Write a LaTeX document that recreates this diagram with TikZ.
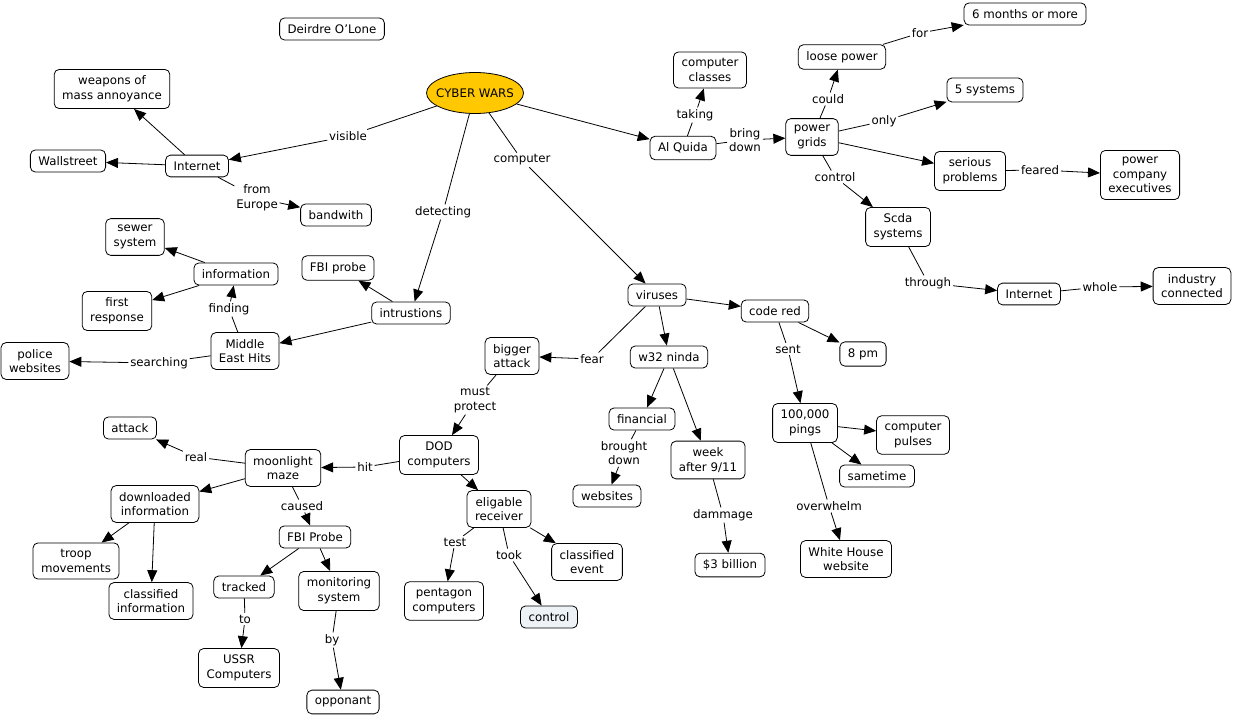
\documentclass[tikz,border=0pt]{standalone}
\usepackage{fontspec}
\setmainfont{DejaVu Sans}
\usetikzlibrary{arrows.meta,shapes.geometric}
\definecolor{cyberorange}{RGB}{255,200,0}
\definecolor{controlblue}{RGB}{236,242,245}
\tikzset{
  concept/.style={draw, rounded corners=5pt, fill=white, align=center, inner xsep=8pt, inner ysep=6.5pt},
  linkword/.style={fill=white, align=center, inner sep=1.5pt},
  arr/.style={-{Triangle[length=12pt,width=10pt]}},
}
\begin{document}
\begin{tikzpicture}[x=1pt,y=-1pt,line width=0.8pt,font=\fontsize{11.8}{14.7}\selectfont]
  \useasboundingbox (0,0) rectangle (1233,717);

  % Autor y concepto central
  \node[concept] (author) at (332,29) {Deirdre O'Lone};
  \node[draw, ellipse, fill=cyberorange, minimum width=97pt, minimum height=41pt, inner xsep=-8pt, inner ysep=0pt] (cyber) at (475,93) {CYBER WARS};

  % Conceptos izquierda arriba
  \node[concept] (weapons) at (112,89) {weapons of\\mass annoyance};
  \node[concept] (wallstreet) at (68,161) {Wallstreet};
  \node[concept] (internetA) at (197,166) {Internet};
  \node[concept] (bandwith) at (336,215) {bandwith};
  \node[concept] (sewer) at (135,237) {sewer\\system};
  \node[concept] (information) at (236,274) {information};
  \node[concept] (response) at (117,311) {first\\response};
  \node[concept] (fbiprobe) at (338,268) {FBI probe};
  \node[concept] (intrusions) at (411,313) {intrustions};
  \node[concept] (middleeast) at (245,351) {Middle\\East Hits};
  \node[concept] (police) at (35,361) {police\\websites};

  % Conceptos izquierda abajo
  \node[concept] (attack) at (130,428) {attack};
  \node[concept] (moonlight) at (283,468) {moonlight\\maze};
  \node[concept] (dod) at (439,455) {DOD\\computers};
  \node[concept] (downloaded) at (155,504) {downloaded\\information};
  \node[concept] (fbiprobeB) at (315,537) {FBI Probe};
  \node[concept] (troop) at (76,561) {troop\\movements};
  \node[concept] (classinfo) at (151,601) {classified\\information};
  \node[concept] (tracked) at (244,587) {tracked};
  \node[concept] (monitoring) at (339,591) {monitoring\\system};
  \node[concept] (pentagon) at (444,601) {pentagon\\computers};
  \node[concept] (ussr) at (239,668) {USSR\\Computers};
  \node[concept] (opponant) at (343,702) {opponant};
  \node[concept] (eligable) at (499,509) {eligable\\receiver};
  \node[concept] (classevent) at (587,562) {classified\\event};
  \node[concept, fill=controlblue] (control) at (549,617) {control};

  % Conceptos de virus
  \node[concept] (viruses) at (657,295) {viruses};
  \node[concept] (codered) at (775,311) {code red};
  \node[concept] (bigger) at (512,356) {bigger\\attack};
  \node[concept] (ninda) at (669,357) {w32 ninda};
  \node[concept] (eightpm) at (863,354) {8 pm};
  \node[concept] (financial) at (642,419) {financial};
  \node[concept] (week) at (708,460) {week\\after 9/11};
  \node[concept] (websites) at (607,496) {websites};
  \node[concept] (pings) at (805,423) {100,000\\pings};
  \node[concept] (pulses) at (913,435) {computer\\pulses};
  \node[concept] (sametime) at (877,476) {sametime};
  \node[concept] (billion) at (730,565) {\$3 billion};
  \node[concept] (whitehouse) at (846,559) {White House\\website};

  % Conceptos derecha arriba
  \node[concept] (classes) at (710,70) {computer\\classes};
  \node[concept] (alquida) at (683,148) {Al Quida};
  \node[concept] (grids) at (812,137) {power\\grids};
  \node[concept] (loose) at (842,57) {loose power};
  \node[concept] (months) at (1025,14) {6 months or more};
  \node[concept] (fivesys) at (985,90) {5 systems};
  \node[concept] (serious) at (970,171) {serious\\problems};
  \node[concept] (executives) at (1140,175) {power\\company\\executives};
  \node[concept] (scda) at (898,227) {Scda\\systems};
  \node[concept] (internetB) at (1029,294) {Internet};
  \node[concept] (industry) at (1192,286) {industry\\connected};

  % Palabras de enlace
  \node[linkword] (visible) at (348,136) {visible};
  \node[linkword] (detecting) at (443,212) {detecting};
  \node[linkword] (computer) at (522,160) {computer};
  \node[linkword] (taking) at (695,115) {taking};
  \node[linkword] (bringdown) at (745,140) {bring\\down};
  \node[linkword] (could) at (828,99) {could};
  \node[linkword] (for) at (920,33) {for};
  \node[linkword] (only) at (884,121) {only};
  \node[linkword] (feared) at (1040,170) {feared};
  \node[linkword] (controls) at (835,177) {control};
  \node[linkword] (through) at (928,283) {through};
  \node[linkword] (whole) at (1100,287) {whole};
  \node[linkword] (europe) at (257,198) {from\\Europe};
  \node[linkword] (finding) at (229,309) {finding};
  \node[linkword] (searching) at (159,363) {searching};
  \node[linkword] (fear) at (592,359) {fear};
  \node[linkword] (protect) at (475,400) {must\\protect};
  \node[linkword] (hit) at (365,467) {hit};
  \node[linkword] (real) at (196,457) {real};
  \node[linkword] (caused) at (302,506) {caused};
  \node[linkword] (to) at (245,619) {to};
  \node[linkword] (by) at (332,640) {by};
  \node[linkword] (test) at (455,542) {test};
  \node[linkword] (took) at (509,555) {took};
  \node[linkword] (brought) at (624,453) {brought\\down};
  \node[linkword] (dammage) at (723,515) {dammage};
  \node[linkword] (sent) at (788,349) {sent};
  \node[linkword] (overwhelm) at (829,506) {overwhelm};

  % Enlaces desde CYBER WARS
  \draw (cyber) -- (visible);
  \draw[arr] (visible) -- (internetA);
  \draw (cyber) -- (detecting);
  \draw[arr] (detecting) -- (intrusions);
  \draw (cyber) -- (computer);
  \draw[arr] (computer) -- (viruses);
  \draw[arr] (cyber) -- (alquida);

  % Enlaces Internet / intrusiones
  \draw[arr] (internetA) -- (weapons);
  \draw[arr] (internetA) -- (wallstreet);
  \draw (internetA) -- (europe);
  \draw[arr] (europe) -- (bandwith);
  \draw[arr] (intrusions) -- (fbiprobe);
  \draw[arr] (intrusions) -- (middleeast);
  \draw (middleeast) -- (finding);
  \draw[arr] (finding) -- (information);
  \draw[arr] (information) -- (sewer);
  \draw[arr] (information) -- (response);
  \draw (middleeast) -- (searching);
  \draw[arr] (searching) -- (police);

  % Enlaces Al Quida
  \draw (alquida) -- (taking);
  \draw[arr] (taking) -- (classes);
  \draw (alquida) -- (bringdown);
  \draw[arr] (bringdown) -- (grids);
  \draw (grids) -- (could);
  \draw[arr] (could) -- (loose);
  \draw (loose) -- (for);
  \draw[arr] (for) -- (months);
  \draw (grids) -- (only);
  \draw[arr] (only) -- (fivesys);
  \draw[arr] (grids) -- (serious);
  \draw (serious) -- (feared);
  \draw[arr] (feared) -- (executives);
  \draw (grids) -- (controls);
  \draw[arr] (controls) -- (scda);
  \draw (scda) -- (through);
  \draw[arr] (through) -- (internetB);
  \draw (internetB) -- (whole);
  \draw[arr] (whole) -- (industry);

  % Enlaces virus
  \draw (viruses) -- (fear);
  \draw[arr] (fear) -- (bigger);
  \draw[arr] (viruses) -- (ninda);
  \draw[arr] (viruses) -- (codered);
  \draw[arr] (ninda) -- (financial);
  \draw[arr] (ninda) -- (week);
  \draw (financial) -- (brought);
  \draw[arr] (brought) -- (websites);
  \draw (week) -- (dammage);
  \draw[arr] (dammage) -- (billion);
  \draw[arr] (codered) -- (eightpm);
  \draw (codered) -- (sent);
  \draw[arr] (sent) -- (pings);
  \draw[arr] (pings) -- (pulses);
  \draw[arr] (pings) -- (sametime);
  \draw (pings) -- (overwhelm);
  \draw[arr] (overwhelm) -- (whitehouse);

  % Enlaces DOD
  \draw (bigger) -- (protect);
  \draw[arr] (protect) -- (dod);
  \draw (dod) -- (hit);
  \draw[arr] (hit) -- (moonlight);
  \draw[arr] (dod) -- (eligable);
  \draw (moonlight) -- (real);
  \draw[arr] (real) -- (attack);
  \draw[arr] (moonlight) -- (downloaded);
  \draw (moonlight) -- (caused);
  \draw[arr] (caused) -- (fbiprobeB);
  \draw[arr] (downloaded) -- (troop);
  \draw[arr] (downloaded) -- (classinfo);
  \draw[arr] (fbiprobeB) -- (tracked);
  \draw[arr] (fbiprobeB) -- (monitoring);
  \draw (tracked) -- (to);
  \draw[arr] (to) -- (ussr);
  \draw (monitoring) -- (by);
  \draw[arr] (by) -- (opponant);
  \draw (eligable) -- (test);
  \draw[arr] (test) -- (pentagon);
  \draw (eligable) -- (took);
  \draw[arr] (took) -- (control);
  \draw[arr] (eligable) -- (classevent);
\end{tikzpicture}
\end{document}
